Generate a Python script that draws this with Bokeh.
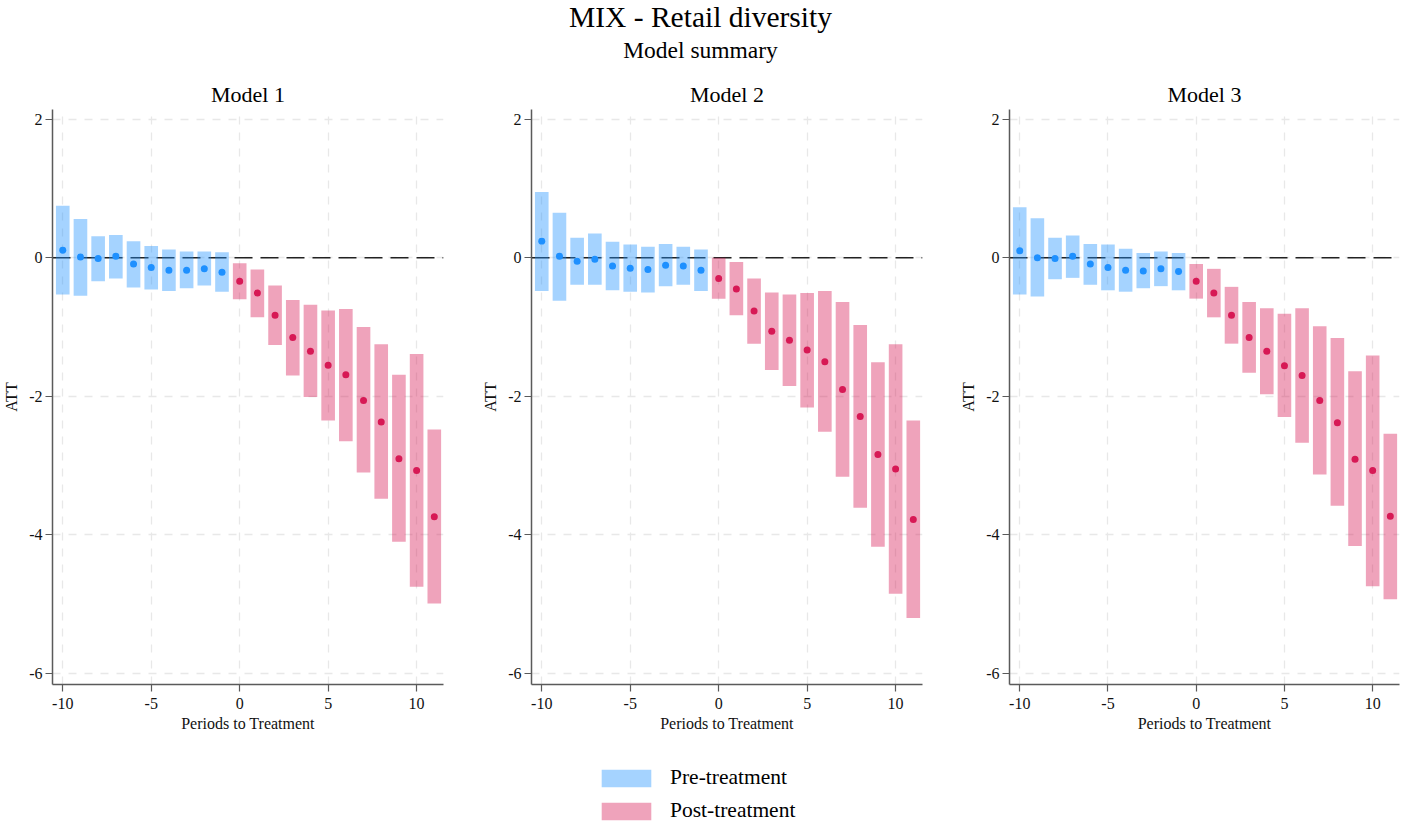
from bokeh.plotting import figure
from bokeh.models import Range1d, FixedTicker, Span, Legend, LegendItem, ColumnDataSource
from bokeh.layouts import column, row
from bokeh.core.properties import value
from bokeh.embed import file_html
from bokeh.resources import INLINE

# ---------------- data ----------------
periods = list(range(-10, 12))

att1 = [0.11, 0.01, -0.01, 0.02, -0.09, -0.14, -0.18, -0.18, -0.16, -0.21,
        -0.34, -0.51, -0.83, -1.15, -1.35, -1.55, -1.69, -2.06, -2.37, -2.90, -3.07, -3.74]
hi1 = [0.75, 0.56, 0.31, 0.33, 0.24, 0.17, 0.12, 0.09, 0.09, 0.08,
       -0.08, -0.17, -0.40, -0.61, -0.68, -0.76, -0.74, -1.00, -1.25, -1.69, -1.39, -2.48]
lo1 = [-0.53, -0.55, -0.34, -0.30, -0.43, -0.46, -0.48, -0.44, -0.40, -0.49,
       -0.60, -0.86, -1.26, -1.70, -2.01, -2.35, -2.65, -3.10, -3.48, -4.10, -4.75, -4.99]

att2 = [0.24, 0.02, -0.05, -0.02, -0.12, -0.15, -0.17, -0.11, -0.12, -0.18,
        -0.30, -0.45, -0.77, -1.06, -1.19, -1.33, -1.50, -1.90, -2.29, -2.84, -3.05, -3.78]
hi2 = [0.95, 0.65, 0.29, 0.35, 0.23, 0.19, 0.16, 0.20, 0.16, 0.12,
       0.00, -0.06, -0.30, -0.50, -0.53, -0.51, -0.48, -0.64, -0.97, -1.51, -1.25, -2.35]
lo2 = [-0.48, -0.62, -0.39, -0.39, -0.47, -0.49, -0.50, -0.41, -0.39, -0.48,
       -0.59, -0.83, -1.24, -1.62, -1.85, -2.16, -2.51, -3.16, -3.61, -4.17, -4.85, -5.20]

att3 = [0.10, 0.00, -0.01, 0.02, -0.09, -0.14, -0.18, -0.19, -0.16, -0.20,
        -0.34, -0.51, -0.83, -1.15, -1.35, -1.56, -1.70, -2.06, -2.38, -2.91, -3.07, -3.73]
hi3 = [0.73, 0.57, 0.29, 0.32, 0.20, 0.19, 0.13, 0.07, 0.09, 0.07,
       -0.09, -0.16, -0.42, -0.64, -0.73, -0.81, -0.73, -0.99, -1.16, -1.64, -1.41, -2.54]
lo3 = [-0.53, -0.56, -0.31, -0.29, -0.39, -0.47, -0.49, -0.44, -0.41, -0.47,
       -0.59, -0.86, -1.24, -1.66, -1.97, -2.30, -2.67, -3.13, -3.58, -4.16, -4.74, -4.93]

models = ["Model 1", "Model 2", "Model 3"]
x_ticks = [-10, -5, 0, 5, 10]
x_tick_labels = ["-10", "-5", "0", "5", "10"]
y_ticks = [-6, -4, -2, 0, 2]
y_tick_labels = ["-6", "-4", "-2", "0", "2"]
legend_labels = ["Pre-treatment", "Post-treatment"]
main_title = "MIX - Retail diversity"
sub_title = "Model summary"

# ---------------- style ----------------
FONT = "Liberation Serif"
BLUE = "#1E90FF"
RED = "#D71955"
AXIS_C = "#5a5a5a"
GRID_C = "#e8e8e8"

TOTAL_W = 1400
HDR_H = 76
MB_L, MB_B = 52, 56
PANEL_W = [479, 478, 443]
PANEL_MBR = [36, 35, 1]
PANEL_H = 664
LEG_H = 84


def drop_title(fig):
    try:
        fig.title = None
    except Exception:
        fig.title.visible = False


# ---------------- header ----------------
hdr = figure(width=TOTAL_W, height=HDR_H, x_range=Range1d(0, TOTAL_W), y_range=Range1d(HDR_H, 0),
             x_axis_location=None, y_axis_location=None, toolbar_location=None,
             output_backend="svg", min_border=0)
drop_title(hdr)
hdr.grid.visible = False
hdr.outline_line_color = None
hdr.text(x=[TOTAL_W / 2], y=[16], text=[main_title], text_font=value(FONT),
         text_font_size="29.5px", text_align="center", text_baseline="alphabetic", text_color="#000")
hdr.text(x=[TOTAL_W / 2], y=[49], text=[sub_title], text_font=value(FONT),
         text_font_size="23.5px", text_align="center", text_baseline="alphabetic", text_color="#000")


# ---------------- panels ----------------
def make_panel(name, att, lo, hi, width, mbr):
    p = figure(width=width, height=PANEL_H, x_range=Range1d(-10.58, 11.52), y_range=Range1d(-6.16, 2.14),
               min_border_left=MB_L, min_border_right=mbr, min_border_top=0, min_border_bottom=MB_B,
               toolbar_location=None, output_backend="svg", title=name)
    p.title.align = "center"
    p.title.text_font = FONT
    p.title.text_font_size = "22px"
    p.title.text_font_style = "normal"
    p.title.text_color = "#000"
    p.title.standoff = 6
    p.outline_line_color = None
    p.xaxis.ticker = FixedTicker(ticks=x_ticks)
    p.yaxis.ticker = FixedTicker(ticks=y_ticks)
    p.xaxis.major_label_overrides = dict(zip(x_ticks, x_tick_labels))
    p.yaxis.major_label_overrides = dict(zip(y_ticks, y_tick_labels))
    for ax in p.axis:
        ax.axis_line_color = AXIS_C
        ax.axis_line_width = 1.5
        ax.major_tick_line_color = AXIS_C
        ax.major_tick_line_width = 1.2
        ax.major_tick_out = 7
        ax.major_tick_in = 0
        ax.minor_tick_out = 0
        ax.minor_tick_in = 0
        ax.major_label_text_font = FONT
        ax.major_label_text_font_size = "16px"
        ax.major_label_text_color = "#111"
        ax.axis_label_text_font = FONT
        ax.axis_label_text_font_style = "normal"
        ax.axis_label_text_font_size = "16px"
        ax.axis_label_text_color = "#111"
    p.yaxis.major_label_standoff = 3
    p.yaxis.axis_label = "ATT"
    p.yaxis.axis_label_standoff = 6
    p.xaxis.major_label_standoff = 6
    p.xaxis.axis_label = "Periods to Treatment"
    p.xaxis.axis_label_standoff = 3
    for g in p.grid:
        g.grid_line_color = GRID_C
        g.grid_line_dash = "8 8"
        g.grid_line_width = 1.3
    p.add_layout(Span(location=0, dimension="width", line_color="#222",
                      line_dash="18 8", line_width=1.6, level="underlay"))

    pre = ColumnDataSource(dict(x=[x for x in periods if x < 0],
                                att=[a for x, a in zip(periods, att) if x < 0],
                                lo=[v for x, v in zip(periods, lo) if x < 0],
                                hi=[v for x, v in zip(periods, hi) if x < 0]))
    post = ColumnDataSource(dict(x=[x for x in periods if x >= 0],
                                 att=[a for x, a in zip(periods, att) if x >= 0],
                                 lo=[v for x, v in zip(periods, lo) if x >= 0],
                                 hi=[v for x, v in zip(periods, hi) if x >= 0]))
    p.vbar(x="x", width=0.77, top="hi", bottom="lo", source=pre,
           fill_color=BLUE, fill_alpha=0.4, line_color=None)
    p.vbar(x="x", width=0.77, top="hi", bottom="lo", source=post,
           fill_color=RED, fill_alpha=0.4, line_color=None)
    p.scatter(x="x", y="att", source=pre, size=7, fill_color=BLUE, line_color=None)
    p.scatter(x="x", y="att", source=post, size=7, fill_color=RED, line_color=None)
    return p


p1 = make_panel(models[0], att1, lo1, hi1, PANEL_W[0], PANEL_MBR[0])
p2 = make_panel(models[1], att2, lo2, hi2, PANEL_W[1], PANEL_MBR[1])
p3 = make_panel(models[2], att3, lo3, hi3, PANEL_W[2], PANEL_MBR[2])

# ---------------- legend ----------------
leg = figure(width=TOTAL_W, height=LEG_H, x_range=Range1d(0, 1), y_range=Range1d(0, 1),
             x_axis_location=None, y_axis_location=None, toolbar_location=None,
             output_backend="svg", min_border_top=16, min_border_bottom=0,
             min_border_left=0, min_border_right=0)
drop_title(leg)
leg.grid.visible = False
leg.outline_line_color = None
# swatch renderers: one bar each, placed outside the visible range, used only for the legend
r_pre = leg.vbar(x=[-5], top=[-5], bottom=[-6], width=0.1, fill_color=BLUE, fill_alpha=0.4, line_color=None)
r_post = leg.vbar(x=[-5], top=[-5], bottom=[-6], width=0.1, fill_color=RED, fill_alpha=0.4, line_color=None)
legend = Legend(items=[LegendItem(label=legend_labels[0], renderers=[r_pre]),
                       LegendItem(label=legend_labels[1], renderers=[r_post])],
                location=(595, 1), orientation="vertical",
                glyph_width=62, glyph_height=22, label_height=22, label_standoff=13,
                spacing=8, padding=0, margin=0, border_line_color=None,
                background_fill_alpha=0, label_text_font=FONT, label_text_font_size="21.5px",
                label_text_color="#000")
leg.add_layout(legend)

layout = column(hdr, row(p1, p2, p3), leg)
open("out.html", "w").write(file_html(layout, INLINE))
